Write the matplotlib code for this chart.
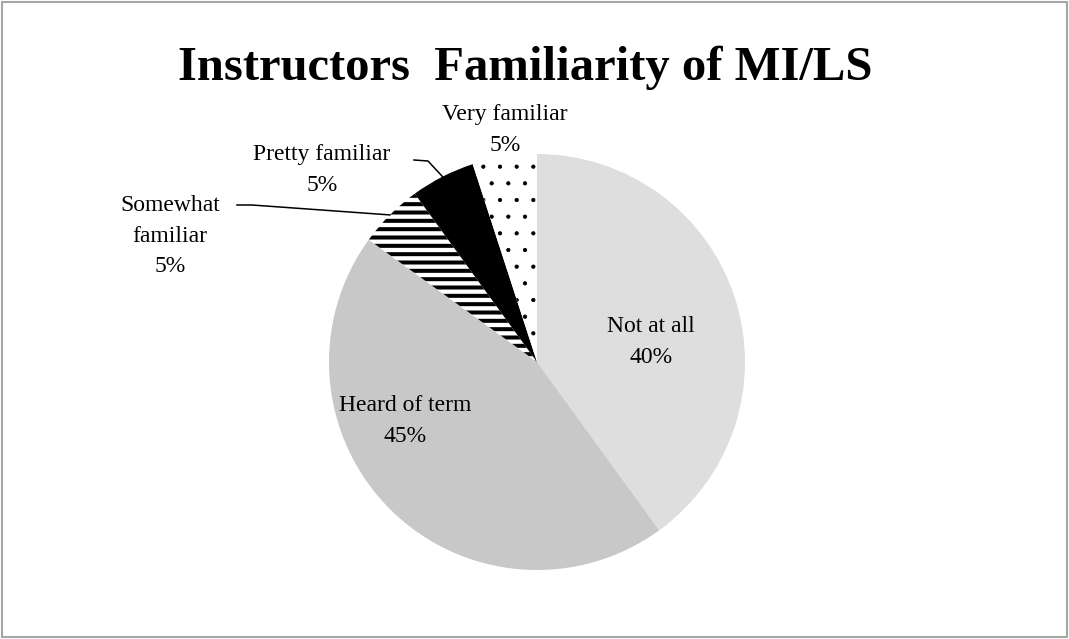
import numpy as np
import matplotlib
matplotlib.use("Agg")
import matplotlib.pyplot as plt
from matplotlib.patches import Rectangle

plt.rcParams['font.family'] = ['Liberation Serif', 'DejaVu Serif']

# data
categories = ['Not at all', 'Heard of term', 'Somewhat familiar', 'Pretty familiar', 'Very familiar']
percent = [40, 45, 5, 5, 5]
shown_names = ['Not at all', 'Heard of term', 'Somewhat\nfamiliar', 'Pretty familiar', 'Very familiar']

W, H = 1069, 639
fig = plt.figure(figsize=(W / 100, H / 100), dpi=100)
ax = fig.add_axes([0, 0, 1, 1])

cx, cy, r = 537, H - 362, 208
wedges, _ = ax.pie(percent, startangle=90, counterclock=False, center=(cx, cy), radius=r,
                   colors=['#dedede', '#c8c8c8', 'white', 'black', 'white'],
                   wedgeprops=dict(linewidth=0, edgecolor='black'), frame=True)
ax.set_xlim(0, W)
ax.set_ylim(0, H)
ax.axis('off')

wedges[2].set_hatch('--')
wedges[4].set_hatch('.')
if hasattr(wedges[2], 'set_hatch_linewidth'):
    wedges[2].set_hatch_linewidth(2.9)
    wedges[4].set_hatch_linewidth(0.6)
else:
    plt.rcParams['hatch.linewidth'] = 2.9

# label positions (pixel layout, y from top)
label_pos = [(651, 342), (405, 421), (170, 236), (322, 170), (505, 130)]
for i, (name, p) in enumerate(zip(shown_names, percent)):
    x, y = label_pos[i]
    ax.text(x, H - y, f"{name}\n{p}%", ha='center', va='center', fontsize=17,
            linespacing=1.6, color='black')

# leader lines for the small outside labels
def edge_point(w):
    a = np.deg2rad((w.theta1 + w.theta2) / 2)
    return cx + r * np.cos(a), cy + r * np.sin(a)

ex, ey = edge_point(wedges[2])
ax.plot([237, 252, ex], [H - 205, H - 205, ey], color='black', lw=1.1)
ex, ey = edge_point(wedges[3])
ax.plot([414, 428, ex], [H - 160, H - 161, ey], color='black', lw=1.1)

ax.text(W / 2 - 9, H - 68, "Instructors  Familiarity of MI/LS", ha='center', va='center',
        fontsize=35, fontweight='bold')

fig.patches.append(Rectangle((0.0015, 0.0025), 0.997, 0.995, transform=fig.transFigure,
                             fill=False, edgecolor='#a6a6a6', linewidth=1.5))

fig.savefig('out.png', dpi=100)
